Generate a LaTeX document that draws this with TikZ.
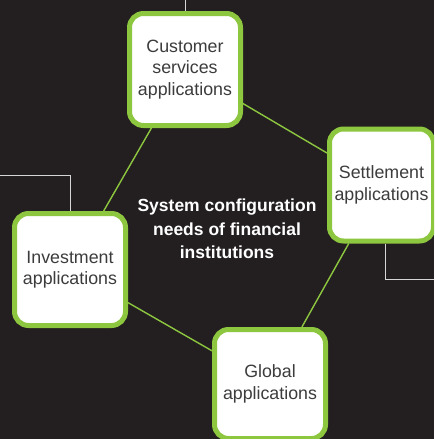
\documentclass[tikz,border=0pt]{standalone}
\usepackage{fontspec}
\setmainfont{Liberation Sans}
\usepackage{tikz}
\usetikzlibrary{positioning}
\usepackage{xcolor}
\definecolor{darkbg}{HTML}{231F20}
\definecolor{lime}{HTML}{8DC63F}
\definecolor{wire}{HTML}{D6D6D6}
\definecolor{boxtext}{HTML}{3C3C3C}
\tikzset{%
	app box/.style={
		draw=lime,
		fill=white,
		line width=5pt,
		rounded corners=14pt,
		minimum width=111pt,
		minimum height=112pt,
		inner sep=2pt,
		align=center,
		text=boxtext,
		font=\fontsize{17.8}{21.5}\selectfont
	},
	link/.style={
		draw=lime,
		line width=1.4pt
	},
	lead/.style={
		draw=wire,
		line width=0.9pt
	},
}
\begin{document}
\begin{tikzpicture}[x=1pt, y=-1pt]
			
			% page and background
			\useasboundingbox (0,0) rectangle (434,439);
			\clip (0,0) rectangle (434,439);
			\fill[darkbg] (0,0) rectangle (434,439);
			
			% the four application boxes
			\node[app box] (cust) at (185,69.5) {Customer\\services\\applications};
			\node[app box] (inv) at (70,269.5) {Investment\\applications};
			\node[app box, minimum width=104pt] (sett) at (381.5,185) {Settlement\\applications};
			\node[app box, minimum height=109pt] (glob) at (270,384) {Global\\applications};
			
			% title in the middle
			\node[text=white, align=center, font=\fontsize{17.5}{23.5}\selectfont\bfseries] (title) at (227,229)
				{System configuration\\needs of financial\\institutions};
			
			% green ring between boxes
			\draw[link] (cust) -- (sett);
			\draw[link] (sett) -- (glob);
			\draw[link] (glob) -- (inv);
			\draw[link] (inv) -- (cust);
			
			% leads running off the page
			\coordinate (custend) at (185,-2);
			\coordinate (invbend) at (70,175);
			\coordinate (invend) at (-2,175);
			\coordinate (settbend) at (385,279);
			\coordinate (settend) at (436,279);
			\coordinate (globend) at (269,445);
			\draw[lead] (cust.north) -- (custend);
			\draw[lead] (inv.north) -- (invbend) -- (invend);
			\draw[lead] (sett.south -| settbend) -- (settbend) -- (settend);
			\draw[lead] (glob.south -| globend) -- (globend);
		\end{tikzpicture}
\end{document}
